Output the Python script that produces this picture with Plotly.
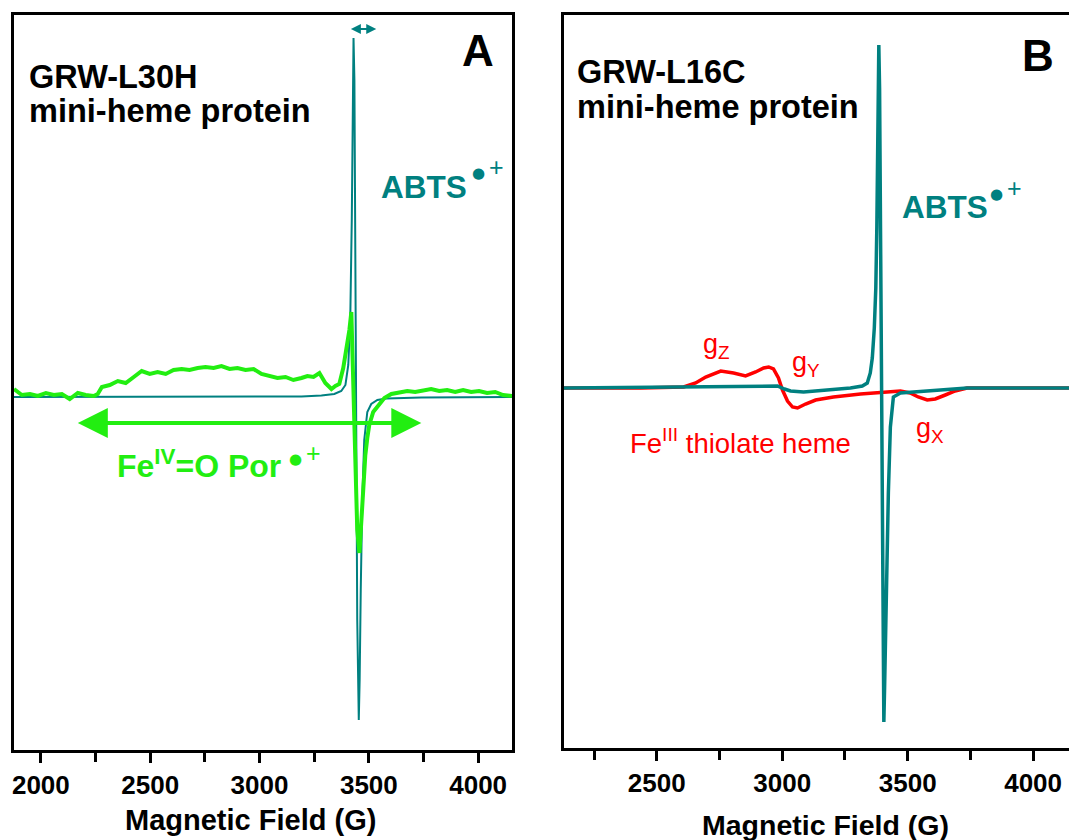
import plotly.graph_objects as go

# ---------------- Panel A data (field in G, intensity in arb. units) ----------------
a_teal_field = [1877, 2735, 3192, 3283, 3342, 3374, 3393, 3406, 3415, 3422, 3427, 3430,
                3434, 3438, 3443, 3447, 3454, 3458, 3463, 3470, 3479, 3493, 3511, 3539,
                3580, 3740, 4155]
a_teal_int = [0.0, 0.0, 0.05, 0.15, 0.3, 0.6, 1.2, 3.2, 7.7, 17.7, 29.7, 35.9,
              31.7, 14.7, -5.3, -22.3, -32.3, -28.3, -19.3, -10.3, -4.3, -1.5, -0.7, -0.3,
              -0.15, -0.05, 0.0]

a_green_field = [1877, 1913, 1950, 1986, 2023, 2059, 2096, 2132, 2169, 2205, 2242, 2260,
                 2279, 2315, 2352, 2388, 2425, 2461, 2498, 2534, 2571, 2607, 2644, 2680,
                 2717, 2753, 2790, 2826, 2863, 2899, 2936, 2973, 3009, 3046, 3082, 3119,
                 3155, 3192, 3219, 3247, 3274, 3301, 3329, 3347, 3365, 3383, 3397, 3411,
                 3420, 3429, 3438, 3447, 3457, 3466, 3475, 3484, 3493, 3502, 3520, 3548,
                 3571, 3603, 3639, 3676, 3712, 3749, 3785, 3822, 3858, 3895, 3931, 3968,
                 4004, 4041, 4078, 4114, 4155]
a_green_int = [0.8, 0.2, 0.3, 0.1, 0.4, 0.2, 0.3, -0.2, 0.4, 0.2, 0.1, 0.3,
               1.0, 1.2, 1.6, 1.4, 2.0, 2.6, 2.3, 2.5, 2.3, 2.7, 2.8, 2.7,
               2.9, 3.0, 2.9, 3.1, 2.8, 2.9, 2.7, 2.8, 2.3, 2.1, 1.9, 2.0,
               1.7, 1.9, 2.1, 2.0, 2.4, 1.4, 0.8, 1.1, 1.3, 2.9, 4.7, 6.7,
               8.5, 1.7, -7.3, -13.3, -15.6, -12.3, -8.3, -5.8, -4.1, -2.8, -1.5, -0.7,
               -0.1, 0.3, 0.4, 0.6, 0.5, 0.7, 0.8, 0.6, 0.7, 0.5, 0.7, 0.5,
               0.6, 0.4, 0.5, 0.2, 0.1]

# ---------------- Panel B data ----------------
b_teal_field = [2130, 2607, 2874, 2981, 3009, 3033, 3085, 3192, 3272, 3319, 3339, 3351,
                3359, 3367, 3373, 3377, 3380, 3383, 3385, 3388, 3391, 3395, 3399, 3402,
                3405, 3408, 3413, 3419, 3423, 3431, 3443, 3471, 3630, 3737, 4143]
b_teal_int = [0.0, 0.1, 0.2, 0.2, -0.1, -0.3, -0.4, -0.2, 0.0, 0.2, 0.5, 1.5,
              3.0, 6.0, 10.0, 16.0, 25.0, 32.0, 34.3, 30.0, 18.0, 2.0, -14.0, -26.0,
              -33.4, -30.0, -22.0, -17.0, -10.5, -3.9, -0.9, -0.5, -0.2, 0.0, 0.0]

b_red_field = [2130, 2436, 2607, 2655, 2695, 2755, 2806, 2854, 2894, 2926, 2946, 2965,
               2985, 3001, 3021, 3041, 3061, 3093, 3133, 3204, 3312, 3403, 3471, 3510,
               3542, 3578, 3610, 3650, 3689, 3737, 4143]
b_red_int = [0.0, 0.0, 0.1, 0.5, 1.1, 1.7, 1.5, 1.2, 1.6, 2.0, 2.1, 1.9,
             1.0, -0.2, -1.3, -1.9, -2.0, -1.6, -1.2, -0.9, -0.6, -0.4, -0.3, -0.5,
             -0.9, -1.2, -1.1, -0.7, -0.3, 0.0, 0.0]

x_tick_vals = [2000, 2500, 3000, 3500, 4000]
x_tick_text = ["2000", "2500", "3000", "3500", "4000"]

TEAL = "#008080"
GREEN = "#22EE11"
RED = "#FF0000"
FONT = "Liberation Sans, Arial, sans-serif"

W, H = 1069, 840


def px(x):
    return x / W


def py(y):
    return 1 - y / H


fig = go.Figure()
fig.add_trace(go.Scatter(x=a_teal_field, y=a_teal_int, mode="lines",
                         line=dict(color=TEAL, width=2), xaxis="x", yaxis="y"))
fig.add_trace(go.Scatter(x=a_green_field, y=a_green_int, mode="lines",
                         line=dict(color=GREEN, width=4), xaxis="x", yaxis="y"))
fig.add_trace(go.Scatter(x=b_red_field, y=b_red_int, mode="lines",
                         line=dict(color=RED, width=3.5), xaxis="x2", yaxis="y2"))
fig.add_trace(go.Scatter(x=b_teal_field, y=b_teal_int, mode="lines",
                         line=dict(color=TEAL, width=3.5), xaxis="x2", yaxis="y2"))

xcommon = dict(showline=True, linecolor="black", linewidth=3, mirror=True,
               ticks="outside", ticklen=10, tickwidth=3, tickcolor="black",
               tickvals=x_tick_vals, ticktext=x_tick_text,
               tickfont=dict(family=FONT, size=26, color="black", weight="bold"),
               minor=dict(ticks="outside", ticklen=9, tickwidth=3, tickcolor="black", dtick=250,
                          tick0=2000),
               showgrid=False, zeroline=False, fixedrange=True)
ycommon = dict(showline=True, linecolor="black", linewidth=3, ticks="", showticklabels=False,
               showgrid=False, zeroline=False, fixedrange=True)

fig.update_layout(
    width=W, height=H,
    margin=dict(l=0, r=0, t=0, b=0),
    paper_bgcolor="white", plot_bgcolor="white",
    showlegend=False,
    xaxis=dict(domain=[px(12), px(511)], range=[1877, 4155], anchor="y", **xcommon),
    yaxis=dict(domain=[py(750), py(15)], range=[-35.3, 38.2], anchor="x", mirror=True, **ycommon),
    xaxis2=dict(domain=[px(563), 1.0], range=[2130, 4143], anchor="y2", **xcommon),
    yaxis2=dict(domain=[py(748), py(15)], range=[-36.0, 37.3], anchor="x2", mirror=False, **ycommon),
)


def label(text, x, y, size, color="black", bold=True, xanchor="left", family=FONT):
    fig.add_annotation(text=text, x=px(x), y=py(y), xref="paper", yref="paper",
                       xanchor=xanchor, yanchor="middle", showarrow=False,
                       font=dict(family=family, size=size, color=color,
                                 weight="bold" if bold else "normal"))


def radical(xb, yb, color):
    # radical-cation superscript: filled dot followed by a thin plus sign
    label("\u25CF", xb, yb, 15, color, bold=False, xanchor="center", family="DejaVu Sans")
    label("+", xb + 18, yb - 6, 25, color, bold=False, xanchor="center")


# Panel A labels
label("GRW-L30H", 25, 77, 32.5)
label("mini-heme protein", 25, 111, 32.5)
label("A", 459, 50, 44)
label("ABTS", 378, 187, 31.5, TEAL)
radical(477, 173, TEAL)
label("Fe<sup>IV</sup>=O Por", 113, 464, 32, GREEN)
radical(294, 459, GREEN)

# Panel B labels
label("GRW-L16C", 574, 72, 32.5)
label("mini-heme protein", 574, 107, 32.5)
label("B", 1020, 56, 44)
label("ABTS", 900, 207, 31.5, TEAL)
radical(996, 194, TEAL)
label("g<sub>Z</sub>", 700, 346, 27, RED, bold=False)
label("g<sub>Y</sub>", 789, 364, 27, RED, bold=False)
label("g<sub>X</sub>", 914, 430, 27, RED, bold=False)
label("Fe<sup>III</sup> thiolate heme", 627, 441, 27.5, RED, bold=False)

# Axis titles
label("Magnetic Field (G)", 249, 820, 29, xanchor="center")
label("Magnetic Field (G)", 825, 825, 28.5, xanchor="center")

# Double-headed arrows (panel A)
fig.add_annotation(x=3740, y=-2.6, ax=2162, ay=-2.6, xref="x", yref="y", axref="x", ayref="y",
                   text="", showarrow=True, arrowhead=2, arrowside="end+start",
                   arrowsize=1.5, arrowwidth=4, arrowcolor=GREEN)
fig.add_annotation(x=3534, y=36.8, ax=3411, ay=36.8, xref="x", yref="y", axref="x", ayref="y",
                   text="", showarrow=True, arrowhead=2, arrowside="end+start",
                   arrowsize=1.0, arrowwidth=2, arrowcolor=TEAL)

fig.write_html("out.html")
